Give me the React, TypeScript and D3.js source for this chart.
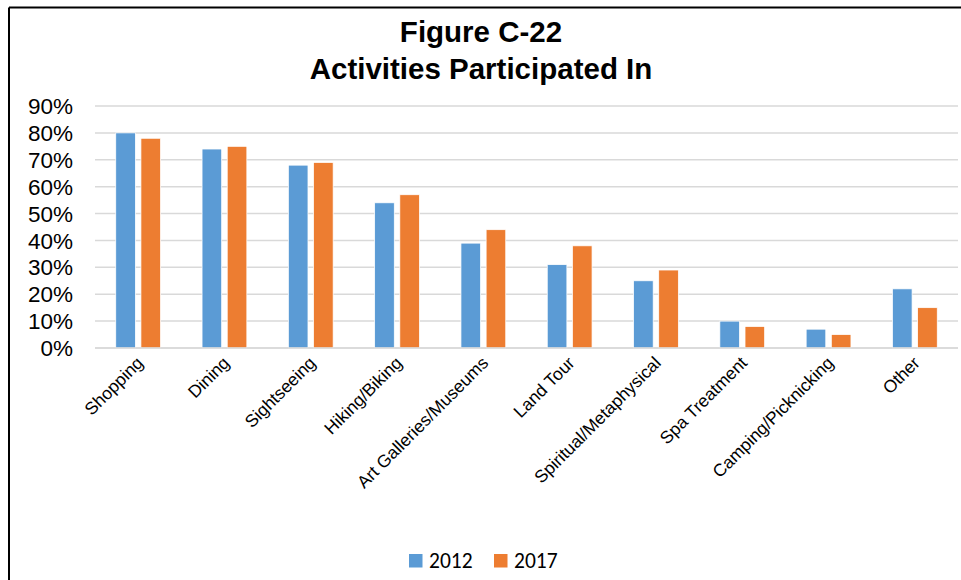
import React from "react";
import * as d3 from "d3";

const categories = [
  "Shopping",
  "Dining",
  "Sightseeing",
  "Hiking/Biking",
  "Art Galleries/Museums",
  "Land Tour",
  "Spiritual/Metaphysical",
  "Spa Treatment",
  "Camping/Picknicking",
  "Other",
];
const seriesNames = ["2012", "2017"];
const values2012 = [80, 74, 68, 54, 39, 31, 25, 10, 7, 22];
const values2017 = [78, 75, 69, 57, 44, 38, 29, 8, 5, 15];
const yTicks = [0, 10, 20, 30, 40, 50, 60, 70, 80, 90];
const titleLines = ["Figure C-22", "Activities Participated In"];
const colors = ["#5B9BD5", "#ED7D31"];

export default function App() {
  const W = 961;
  const H = 580;
  const x0 = d3.scaleBand<string>().domain(categories).range([95, 958]).padding(0);
  const x1 = d3.scaleBand<string>().domain(seriesNames).range([0, 44.8]).paddingInner(0.22);
  const y = d3.scaleLinear().domain([0, 90]).range([348, 106]);
  const series = [values2012, values2017];
  const font = "Arial, 'Liberation Sans', sans-serif";

  return (
    <svg
      width={W}
      height={H}
      style={{ position: "absolute", left: 0, top: 0, background: "#fff" }}
      fontFamily={font}
    >
      <rect x={0} y={0} width={W} height={H} fill="#fff" />
      <line x1={9} y1={7.5} x2={W} y2={7.5} stroke="#000" strokeWidth={2} />
      <line x1={9} y1={7.5} x2={9} y2={H} stroke="#000" strokeWidth={2} />

      {titleLines.map((t, i) => (
        <text
          key={t}
          x={481}
          y={42 + i * 37}
          textAnchor="middle"
          fontWeight="bold"
          fontSize={29.5}
          fill="#000"
        >
          {t}
        </text>
      ))}

      {yTicks.map((t) => (
        <g key={t}>
          <line
            x1={95}
            x2={958}
            y1={y(t)}
            y2={y(t)}
            stroke="#D9D9D9"
            strokeWidth={1.5}
          />
          <text
            x={73}
            y={y(t)}
            dy="0.36em"
            textAnchor="end"
            fontSize={22.5}
            fill="#000"
          >
            {t}%
          </text>
        </g>
      ))}

      {categories.map((c, i) => {
        const cx = (x0(c) as number) + x0.bandwidth() / 2;
        return (
          <g key={c}>
            {series.map((vals, s) => {
              const bx = cx - 22.4 + (x1(seriesNames[s]) as number);
              return (
                <rect
                  key={s}
                  x={bx}
                  y={y(vals[i])}
                  width={x1.bandwidth()}
                  height={y(0) - y(vals[i])}
                  fill={colors[s]}
                  stroke="#fff"
                  strokeWidth={0.75}
                />
              );
            })}
            <text
              transform={`translate(${cx + 6},${364}) rotate(-45)`}
              textAnchor="end"
              fontSize={17.5}
              fill="#000"
            >
              {c}
            </text>
          </g>
        );
      })}
      <line x1={95} x2={958} y1={y(0)} y2={y(0)} stroke="#D9D9D9" strokeWidth={1.5} />

      {seriesNames.map((s, i) => (
        <g key={s} transform={`translate(${409 + i * 85},554)`}>
          <rect x={0} y={0} width={13.5} height={13.5} fill={colors[i]} />
          <text
            x={20}
            y={14}
            fontSize={21.5}
            fontFamily="Carlito, 'Open Sans', 'Noto Sans', sans-serif"
            fill="#000"
          >
            {s}
          </text>
        </g>
      ))}
    </svg>
  );
}
